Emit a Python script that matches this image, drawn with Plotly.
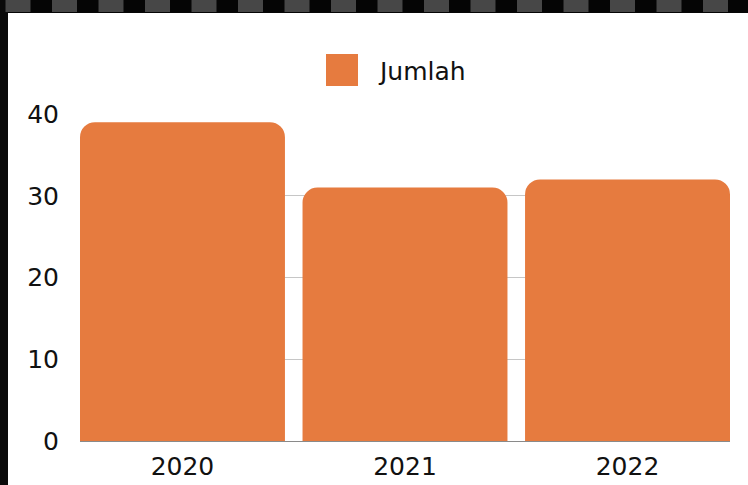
import plotly.graph_objects as go

categories = ["2020", "2021", "2022"]
values = [39, 31, 32]
series_name = "Jumlah"
y_ticks = [0, 10, 20, 30, 40]

BAR_COLOR = "#E67B3F"
FONT = "DejaVu Sans"
FSIZE = 25
TEXT_COLOR = "#111111"

W, H = 748, 485
ML, MR, MT, MB = 80, 18, 114, 44
PW, PH = W - ML - MR, H - MT - MB


def px(x):
    return (x - ML) / PW


def py(y):
    return (H - MB - y) / PH


fig = go.Figure()
fig.add_trace(go.Bar(
    x=categories, y=values, name=series_name,
    marker=dict(color=BAR_COLOR, line=dict(width=0)),
    showlegend=False,
))

bw = 0.921
shapes = []
# dark photo border (top and left)
shapes.append(dict(type="rect", xref="paper", yref="paper",
                   x0=px(0), x1=px(W), y0=py(13), y1=py(0),
                   fillcolor="#050505", line=dict(width=0), layer="above"))
shapes.append(dict(type="rect", xref="paper", yref="paper",
                   x0=px(0), x1=px(8), y0=py(H), y1=py(0),
                   fillcolor="#0a0a0a", line=dict(width=0), layer="above"))
k = 0
while 5.5 + k * 46.5 < W:
    x0 = 5.5 + k * 46.5
    shapes.append(dict(type="rect", xref="paper", yref="paper",
                       x0=px(x0), x1=px(x0 + 25), y0=py(12), y1=py(0),
                       fillcolor="#474747", line=dict(width=0), layer="above"))
    k += 1
# legend swatch
shapes.append(dict(type="rect", xref="paper", yref="paper",
                   x0=px(326), x1=px(358), y0=py(86), y1=py(54),
                   fillcolor=BAR_COLOR, line=dict(width=0)))

fig.update_layout(
    width=W, height=H,
    margin=dict(l=ML, r=MR, t=MT, b=MB, pad=0, autoexpand=False),
    paper_bgcolor="white", plot_bgcolor="white",
    font=dict(family=FONT, size=FSIZE, color=TEXT_COLOR),
    bargap=1 - bw,
    barcornerradius=15,
    showlegend=False,
    shapes=shapes,
    annotations=[dict(text=series_name, xref="paper", yref="paper",
                      x=px(376), y=py(71), xanchor="left", yanchor="middle",
                      showarrow=False, font=dict(family=FONT, size=FSIZE, color=TEXT_COLOR))],
    xaxis=dict(type="category", range=[-bw / 2, 2 + bw / 2],
               showgrid=False, showline=False, ticks="", automargin=False,
               ticklabelstandoff=8, tickfont=dict(size=FSIZE)),
    yaxis=dict(range=[0, 40], tickvals=y_ticks, showgrid=True,
               gridcolor="#c6c6c6", gridwidth=1, automargin=False,
               zeroline=True, zerolinecolor="#8a8a8a", zerolinewidth=1,
               showline=False, ticks="", ticklabelstandoff=20,
               tickfont=dict(size=FSIZE)),
)

fig.write_html("out.html", config={"displayModeBar": False},
               post_script="document.body.style.margin='0';")
